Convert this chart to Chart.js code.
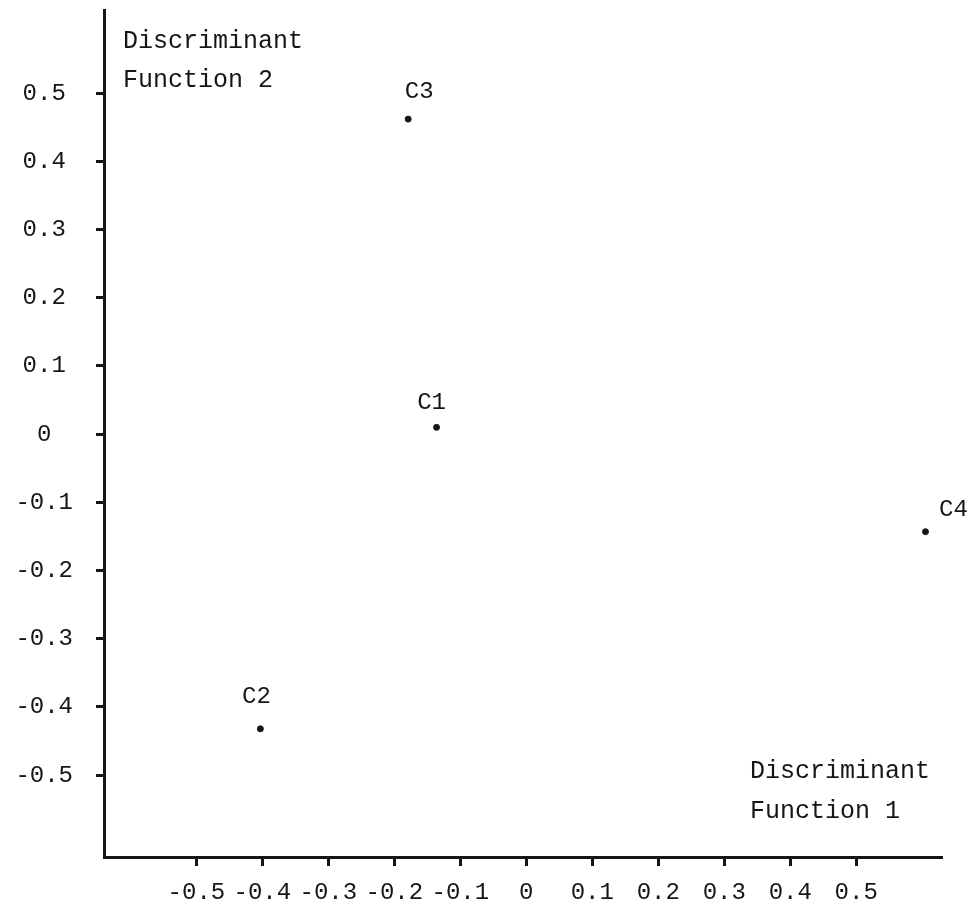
<!DOCTYPE html>
<html>
<head>
<meta charset="utf-8">
<script src="https://cdn.jsdelivr.net/npm/chart.js@4.4.1/dist/chart.umd.min.js"></script>
<style>
  html, body { margin: 0; padding: 0; background: #fff; }
  canvas { display: block; }
</style>
</head>
<body>
<canvas id="grafico" width="970" height="909"></canvas>
<script>
// group centroids on the two discriminant functions
const grupos = ['C1', 'C2', 'C3', 'C4'];
const funcao1 = [-0.136, -0.403, -0.179, 0.605];
const funcao2 = [0.010, -0.432, 0.462, -0.143];

// axis ticks
const ticksX = [-0.5, -0.4, -0.3, -0.2, -0.1, 0, 0.1, 0.2, 0.3, 0.4, 0.5];
const rotulosX = ['-0.5', '-0.4', '-0.3', '-0.2', '-0.1', '0', '0.1', '0.2', '0.3', '0.4', '0.5'];
const ticksY = [-0.5, -0.4, -0.3, -0.2, -0.1, 0, 0.1, 0.2, 0.3, 0.4, 0.5];
const rotulosY = ['-0.5', '-0.4', '-0.3', '-0.2', '-0.1', '0', '0.1', '0.2', '0.3', '0.4', '0.5'];

const tituloX = ['Discriminant', 'Function 1'];
const tituloY = ['Discriminant', 'Function 2'];

// where each group label sits relative to its dot (style only)
const deslocRotulo = [[-5, -25], [-4, -32], [11, -27], [28, -22]];

const tinta = '#161616';
const fonteMono = '"Liberation Mono", "Courier New", monospace';

const pontos = grupos.map((g, i) => ({ x: funcao1[i], y: funcao2[i] }));

// labels next to the dots
const rotulosPontos = {
    id: 'rotulosPontos',
    afterDatasetsDraw(chart) {
        const ctx = chart.ctx;
        const meta = chart.getDatasetMeta(0);
        ctx.save();
        ctx.fillStyle = tinta;
        ctx.font = '24px ' + fonteMono;
        ctx.textAlign = 'center';
        ctx.textBaseline = 'middle';
        meta.data.forEach((p, i) => {
            ctx.fillText(grupos[i], p.x + deslocRotulo[i][0], p.y + deslocRotulo[i][1]);
        });
        ctx.restore();
    }
};

// axis titles written inside the plot, typewriter style
const titulosEixos = {
    id: 'titulosEixos',
    afterDraw(chart) {
        const ctx = chart.ctx;
        const area = chart.chartArea;
        ctx.save();
        ctx.fillStyle = tinta;
        ctx.font = '25px ' + fonteMono;
        ctx.textAlign = 'left';
        ctx.textBaseline = 'alphabetic';
        ctx.fillText(tituloY[0], area.left + 19, area.top + 38);
        ctx.fillText(tituloY[1], area.left + 19, area.top + 77);
        ctx.fillText(tituloX[0], area.right - 192, area.bottom - 79);
        ctx.fillText(tituloX[1], area.right - 192, area.bottom - 39);
        ctx.restore();
    }
};

const ctx = document.getElementById('grafico').getContext('2d');

const grafico = new Chart(ctx, {
    type: 'scatter',
    data: {
        datasets: [{
            label: 'Centroids',
            data: pontos,
            backgroundColor: tinta,
            borderColor: tinta,
            pointRadius: 3,
            pointHoverRadius: 3
        }]
    },
    options: {
        responsive: false,
        animation: false,
        layout: { padding: { top: 10, right: 28, left: 0, bottom: 0 } },
        plugins: {
            legend: { display: false },
            tooltip: { enabled: false }
        },
        scales: {
            x: {
                type: 'linear',
                min: -0.64,
                max: 0.63,
                afterBuildTicks: (s) => { s.ticks = ticksX.map(v => ({ value: v })); },
                afterFit: (s) => {
                    s.height = 52;
                    s.paddingLeft = 0; s.paddingRight = 0;
                },
                grid: {
                    drawOnChartArea: false,
                    drawTicks: true,
                    tickLength: 9,
                    tickWidth: 3,
                    tickColor: tinta
                },
                border: { display: true, color: tinta, width: 3 },
                ticks: {
                    autoSkip: false,
                    maxRotation: 0,
                    padding: 12,
                    color: tinta,
                    font: { family: fonteMono, size: 24 },
                    callback: (v, i) => rotulosX[i]
                }
            },
            y: {
                type: 'linear',
                min: -0.62,
                max: 0.622,
                afterBuildTicks: (s) => { s.ticks = ticksY.map(v => ({ value: v })); },
                afterFit: (s) => {
                    s.width = 104;
                    s.paddingTop = 0; s.paddingBottom = 0;
                },
                grid: {
                    drawOnChartArea: false,
                    drawTicks: true,
                    tickLength: 8,
                    tickWidth: 3,
                    tickColor: tinta
                },
                border: { display: true, color: tinta, width: 3 },
                ticks: {
                    autoSkip: false,
                    crossAlign: 'center',
                    padding: 23,
                    color: tinta,
                    font: { family: fonteMono, size: 24 },
                    callback: (v, i) => rotulosY[i]
                }
            }
        }
    },
    plugins: [rotulosPontos, titulosEixos]
});
</script>
</body>
</html>
